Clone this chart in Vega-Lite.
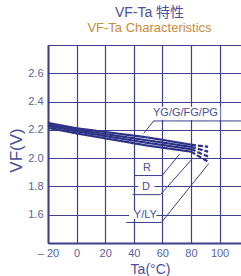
{
  "$schema": "https://vega.github.io/schema/vega-lite/v6.json",
  "width": 193,
  "height": 198,
  "autosize": {"type": "none"},
  "padding": {"left": 48, "top": 45, "right": 0, "bottom": 33},
  "background": "white",
  "config": {
    "view": {"stroke": null},
    "font": "Liberation Sans, Noto Sans CJK JP",
    "axis": {"labelOverlap": false, "labelBound": false, "labelFlush": false}
  },
  "title": {
    "text": "VF-Ta 特性",
    "subtitle": "VF-Ta Characteristics",
    "anchor": "middle",
    "dx": 5,
    "offset": 4,
    "fontSize": 14,
    "fontWeight": "normal",
    "color": "#4b4e9a",
    "subtitleFontSize": 13,
    "subtitleColor": "#c98a3b",
    "subtitlePadding": 2,
    "font": "Liberation Sans, Noto Sans CJK JP",
    "subtitleFont": "Liberation Sans"
  },
  "datasets": {
    "curves": [
      {"series": "YG/G/FG/PG", "part": "solid", "ta": -20, "vf": 2.249},
      {"series": "YG/G/FG/PG", "part": "solid", "ta": 0, "vf": 2.211},
      {"series": "YG/G/FG/PG", "part": "solid", "ta": 50, "vf": 2.146},
      {"series": "YG/G/FG/PG", "part": "solid", "ta": 80, "vf": 2.095},
      {"series": "YG/G/FG/PG", "part": "dashed", "ta": 80, "vf": 2.095},
      {"series": "YG/G/FG/PG", "part": "dashed", "ta": 92, "vf": 2.080},
      {"series": "R", "part": "solid", "ta": -20, "vf": 2.239},
      {"series": "R", "part": "solid", "ta": 0, "vf": 2.200},
      {"series": "R", "part": "solid", "ta": 50, "vf": 2.125},
      {"series": "R", "part": "solid", "ta": 80, "vf": 2.080},
      {"series": "R", "part": "dashed", "ta": 80, "vf": 2.080},
      {"series": "R", "part": "dashed", "ta": 92, "vf": 2.046},
      {"series": "D", "part": "solid", "ta": -20, "vf": 2.228},
      {"series": "D", "part": "solid", "ta": 0, "vf": 2.189},
      {"series": "D", "part": "solid", "ta": 50, "vf": 2.107},
      {"series": "D", "part": "solid", "ta": 80, "vf": 2.064},
      {"series": "D", "part": "dashed", "ta": 80, "vf": 2.064},
      {"series": "D", "part": "dashed", "ta": 92, "vf": 2.011},
      {"series": "Y/LY", "part": "solid", "ta": -20, "vf": 2.214},
      {"series": "Y/LY", "part": "solid", "ta": 0, "vf": 2.175},
      {"series": "Y/LY", "part": "solid", "ta": 50, "vf": 2.088},
      {"series": "Y/LY", "part": "solid", "ta": 80, "vf": 2.046},
      {"series": "Y/LY", "part": "dashed", "ta": 80, "vf": 2.046},
      {"series": "Y/LY", "part": "dashed", "ta": 92, "vf": 1.975}
    ],
    "boxes": [
      {"label": "YG/G/FG/PG", "x1": 57.9, "x2": 100.5, "y1": 2.27, "y2": 2.364},
      {"label": "D", "x1": 43.2, "x2": 54.4, "y1": 1.77, "y2": 1.82},
      {"label": "Y/LY", "x1": 36.8, "x2": 55.8, "y1": 1.57, "y2": 1.63}
    ],
    "leaders": [
      {"label": "YG/G/FG/PG", "x1": 53.7, "x2": 117.2, "y1": 2.263, "y2": 2.263},
      {"label": "YG/G/FG/PG", "x1": 53.9, "x2": 46.9, "y1": 2.263, "y2": 2.174},
      {"label": "R", "x1": 40.4, "x2": 59.8, "y1": 1.877, "y2": 1.877},
      {"label": "R", "x1": 59.8, "x2": 72.1, "y1": 1.877, "y2": 2.029},
      {"label": "D", "x1": 39.2, "x2": 58.6, "y1": 1.742, "y2": 1.742},
      {"label": "D", "x1": 58.6, "x2": 80.8, "y1": 1.742, "y2": 1.994},
      {"label": "Y/LY", "x1": 34.7, "x2": 59.3, "y1": 1.545, "y2": 1.545},
      {"label": "Y/LY", "x1": 59.3, "x2": 92.5, "y1": 1.545, "y2": 1.963}
    ],
    "labels": [
      {"label": "YG/G/FG/PG", "x": 76.1, "y": 2.317},
      {"label": "R", "x": 49.3, "y": 1.931},
      {"label": "D", "x": 48.6, "y": 1.795},
      {"label": "Y/LY", "x": 48.1, "y": 1.601}
    ]
  },
  "layer": [
    {
      "data": {"name": "boxes"},
      "mark": {"type": "rect", "color": "white"},
      "encoding": {
        "x": {
          "field": "x1", "type": "quantitative",
          "scale": {"domain": [-20, 115], "nice": false, "zero": false},
          "axis": {
            "values": [-20, 0, 20, 40, 60, 80, 100],
            "tickCount": 50,
            "labelExpr": "datum.value == -20 ? '– 20' : datum.label",
            "title": "Ta(°C)",
            "titleFontSize": 14,
            "titleFontWeight": "normal",
            "titleColor": "#4b4e9a",
            "titleX": 102,
            "titleY": 30,
            "titleBaseline": "alphabetic",
            "titleAlign": "center",
            "labelFontSize": 11,
            "labelColor": "#5a5ea5",
            "labelPadding": 4,
            "ticks": false,
            "domainColor": "#3d3f8e",
            "domainWidth": 2,
            "grid": true,
            "gridColor": "#3d3f8e",
            "gridWidth": 1.2,
            "gridOpacity": 1
          }
        },
        "x2": {"field": "x2"},
        "y": {
          "field": "y1", "type": "quantitative",
          "scale": {"domain": [1.4, 2.8], "nice": false, "zero": false},
          "axis": {
            "values": [1.4, 1.6, 1.8, 2.0, 2.2, 2.4, 2.6, 2.8],
            "tickCount": 50,
            "labelExpr": "datum.value < 1.5 || datum.value > 2.7 ? '' : format(datum.value, '.1f')",
            "title": "VF(V)",
            "titleFontSize": 17,
            "titleFontWeight": "normal",
            "titleColor": "#4b4e9a",
            "titleAngle": -90,
            "titleX": -32,
            "titleY": 105,
            "titleBaseline": "middle",
            "titleAlign": "center",
            "labelFontSize": 11,
            "labelColor": "#5a5ea5",
            "labelPadding": 5,
            "ticks": false,
            "domainColor": "#3d3f8e",
            "domainWidth": 2,
            "grid": true,
            "gridColor": "#3d3f8e",
            "gridWidth": 1.2,
            "gridOpacity": 1
          }
        },
        "y2": {"field": "y2"}
      }
    },
    {
      "data": {"name": "curves"},
      "mark": {"type": "line", "strokeWidth": 2.2, "color": "#2f3387"},
      "encoding": {
        "x": {"field": "ta", "type": "quantitative"},
        "y": {"field": "vf", "type": "quantitative"},
        "detail": {"field": "series"},
        "strokeDash": {
          "field": "part", "type": "nominal",
          "scale": {"domain": ["solid", "dashed"], "range": [[1, 0], [5, 2]]},
          "legend": null
        }
      }
    },
    {
      "data": {"name": "leaders"},
      "mark": {"type": "rule", "strokeWidth": 1, "color": "#3d3f8e"},
      "encoding": {
        "x": {"field": "x1", "type": "quantitative"},
        "x2": {"field": "x2"},
        "y": {"field": "y1", "type": "quantitative"},
        "y2": {"field": "y2"}
      }
    },
    {
      "data": {"name": "labels"},
      "mark": {"type": "text", "fontSize": 11, "color": "#4b4e9a", "baseline": "middle", "align": "center"},
      "encoding": {
        "x": {"field": "x", "type": "quantitative"},
        "y": {"field": "y", "type": "quantitative"},
        "text": {"field": "label"}
      }
    }
  ]
}
